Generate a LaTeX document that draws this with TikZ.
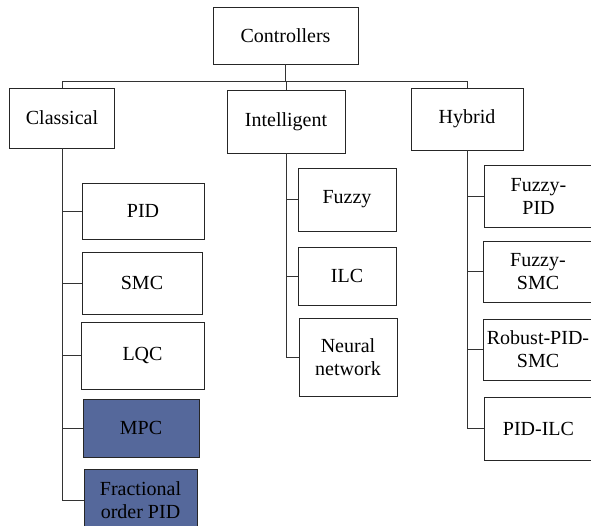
\documentclass[tikz,border=0pt]{standalone}
\usepackage{fontspec}
\setmainfont{Liberation Serif}
\definecolor{boxblue}{RGB}{85,104,155}
\begin{document}
\begin{tikzpicture}[x=1pt,y=-1pt,
  every node/.style={font=\fontsize{20}{23}\selectfont},
  bx/.style={draw=black!85, line width=0.8pt, rectangle, inner sep=0pt, align=center},
  fbx/.style={bx, fill=boxblue},
  ln/.style={draw=black!80, line width=0.8pt}]
\useasboundingbox (0,0) rectangle (591,526);
\node[bx, minimum width=145, minimum height=57] (ctrl) at (285.5,35.5) {Controllers};
\node[bx, minimum width=105, minimum height=60] (cls) at (62,118) {Classical};
\node[bx, minimum width=118, minimum height=63] (int) at (286,121.5) {Intelligent};
\node[bx, minimum width=112, minimum height=62] (hyb) at (467,119) {Hybrid};
\node[bx, minimum width=122, minimum height=56] (pid) at (143,211) {PID};
\node[bx, minimum width=120, minimum height=62] (smc) at (142,283) {SMC};
\node[bx, minimum width=123, minimum height=67] (lqc) at (142.5,355.5) {LQC};
\node[fbx, minimum width=116, minimum height=58] (mpc) at (141,428) {MPC};
\node[fbx, minimum width=113, minimum height=62] (frac) at (140.5,500) {Fractional\\order PID};
\node[bx, minimum width=98, minimum height=63] (fuz) at (347,199.5) {Fuzzy};
\node[bx, minimum width=98, minimum height=58] (ilc) at (347,276) {ILC};
\node[bx, minimum width=98, minimum height=78] (nn) at (348,357) {Neural\\network};
\node[bx, minimum width=109, minimum height=62] (fpid) at (538.5,196) {Fuzzy-\\PID};
\node[bx, minimum width=110, minimum height=61] (fsmc) at (538,271.5) {Fuzzy-\\SMC};
\node[bx, minimum width=110, minimum height=61] (rps) at (538,349.5) {Robust-PID-\\SMC};
\node[bx, minimum width=109, minimum height=63] (pilc) at (538.5,428.5) {PID-ILC};
\coordinate (bus) at (286,81);
% top bus
\draw[ln] (ctrl.south) -- (ctrl.south |- bus);
\draw[ln] (cls.north) |- (hyb.north |- bus) -- (hyb.north);
\draw[ln] (int.north |- bus) -- (int.north);
% classical trunk
\draw[ln] (cls.south) |- (frac.west);
\draw[ln] (cls.south |- pid.west) -- (pid.west);
\draw[ln] (cls.south |- smc.west) -- (smc.west);
\draw[ln] (cls.south |- lqc.west) -- (lqc.west);
\draw[ln] (cls.south |- mpc.west) -- (mpc.west);
% intelligent trunk
\draw[ln] (int.south) |- (nn.west);
\draw[ln] (int.south |- fuz.west) -- (fuz.west);
\draw[ln] (int.south |- ilc.west) -- (ilc.west);
% hybrid trunk
\draw[ln] (hyb.south) |- (pilc.west);
\draw[ln] (hyb.south |- fpid.west) -- (fpid.west);
\draw[ln] (hyb.south |- fsmc.west) -- (fsmc.west);
\draw[ln] (hyb.south |- rps.west) -- (rps.west);
\end{tikzpicture}
\end{document}
